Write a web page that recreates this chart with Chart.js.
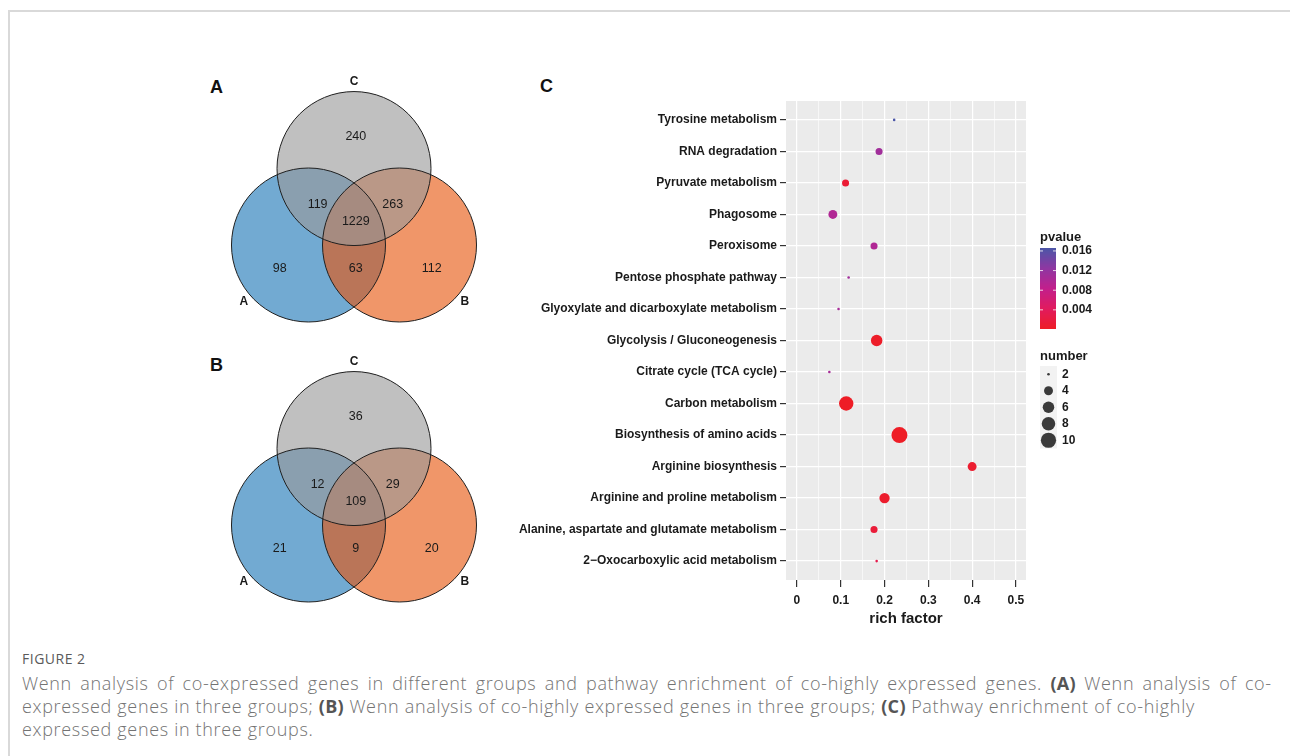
<!DOCTYPE html>
<html>
<head>
<meta charset="utf-8">
<script src="https://cdn.jsdelivr.net/npm/chart.js@4.4.1/dist/chart.umd.min.js"></script>
<style>
  body { margin:0; width:1290px; height:756px; background:#fff; position:relative; overflow:hidden; font-family:"Liberation Sans", Arial, sans-serif; }
  .frame { position:absolute; left:8px; top:10px; right:-4px; bottom:-4px; border-top:2px solid #d9d9d9; border-left:2px solid #d9d9d9; }
  canvas { position:absolute; }
  .tag { position:absolute; font-weight:bold; font-size:18px; color:#111; line-height:20px; }
  .figno { position:absolute; left:22px; top:650px; font-family:"Open Sans", sans-serif; font-size:14px; line-height:18px; color:#5a5a5a; letter-spacing:0.5px; }
  .cap { position:absolute; left:22px; top:672px; font-family:"Open Sans", sans-serif; font-weight:300; font-size:18px; letter-spacing:0.68px; line-height:23px; color:#737373; white-space:nowrap; }
  .cap div { height:23px; }
  .cap .wide { word-spacing:3px; }
  .cap b { color:#555; font-weight:700; letter-spacing:0.3px; }
</style>
</head>
<body>
<div class="frame"></div>

<div class="tag" style="left:210px;top:77px">A</div>
<div class="tag" style="left:210px;top:355px">B</div>
<div class="tag" style="left:540px;top:76px">C</div>

<canvas id="vennA" width="320" height="265" style="left:194px;top:70px"></canvas>
<canvas id="vennB" width="320" height="265" style="left:194px;top:350px"></canvas>
<canvas id="enrich" width="630" height="540" style="left:500px;top:90px"></canvas>

<div class="figno">FIGURE 2</div>
<div class="cap">
  <div class="wide">Wenn analysis of co-expressed genes in different groups and pathway enrichment of co-highly expressed genes. <b>(A)</b> Wenn analysis of co-</div>
  <div>expressed genes in three groups; <b>(B)</b> Wenn analysis of co-highly expressed genes in three groups; <b>(C)</b> Pathway enrichment of co-highly</div>
  <div>expressed genes in three groups.</div>
</div>

<script>
// ---- data ----
// venn regions: C only, A&C, B&C, A&B&C, A only, A&B, B only
var vennCountsA = [240, 119, 263, 1229, 98, 63, 112];
var vennCountsB = [36, 12, 29, 109, 21, 9, 20];
var setNames = ['A', 'B', 'C'];

// pathways listed top to bottom
var pathways = [
  'Tyrosine metabolism',
  'RNA degradation',
  'Pyruvate metabolism',
  'Phagosome',
  'Peroxisome',
  'Pentose phosphate pathway',
  'Glyoxylate and dicarboxylate metabolism',
  'Glycolysis / Gluconeogenesis',
  'Citrate cycle (TCA cycle)',
  'Carbon metabolism',
  'Biosynthesis of amino acids',
  'Arginine biosynthesis',
  'Arginine and proline metabolism',
  'Alanine, aspartate and glutamate metabolism',
  '2\u2212Oxocarboxylic acid metabolism'
];
var richFactor = [0.222, 0.1875, 0.111, 0.082, 0.176, 0.118, 0.095, 0.182, 0.074, 0.1125, 0.234, 0.4, 0.2, 0.176, 0.182];
var geneNumber = [2, 3, 3, 4, 3, 2, 2, 6, 2, 9, 11, 4, 5, 3, 2];
var pValue = [0.0166, 0.011, 0.0012, 0.0098, 0.0098, 0.011, 0.0105, 0.0003, 0.0105, 0.0001, 0.0001, 0.0008, 0.0006, 0.0015, 0.003];

var xMajorTicks = [0, 0.1, 0.2, 0.3, 0.4, 0.5];
var xMinorTicks = [0.05, 0.15, 0.25, 0.35, 0.45];
var pBreaks = [0.004, 0.008, 0.012, 0.016];
var sizeBreaks = [2, 4, 6, 8, 10];

// ---- layout (venn geometry in circle-distance units) ----
var vennCenters = [[-0.5, 0], [0.5, 0], [0, 0.84]];
var vennRadius = 0.846;
var regionSpots = [[0.02, 1.187], [-0.4, 0.45], [0.425, 0.45], [0.02, 0.253], [-0.816, -0.264], [0.02, -0.264], [0.853, -0.264]];
var nameSpots = [[-1.21, -0.626], [1.217, -0.626], [0, 1.79]];
var vennFills = ['rgba(28,118,182,0.62)', 'rgba(231,86,13,0.62)', 'rgba(153,153,153,0.62)'];

Chart.defaults.font.family = '"Liberation Sans", Arial, sans-serif';
Chart.defaults.color = '#1a1a1a';

var vennText = {
  id: 'vennText',
  afterDatasetsDraw: function(chart, args, opts) {
    var ctx = chart.ctx, x = chart.scales.x, y = chart.scales.y;
    ctx.save();
    ctx.fillStyle = '#1a1a1a';
    ctx.textAlign = 'center';
    ctx.textBaseline = 'middle';
    ctx.font = '12.5px "Liberation Sans"';
    opts.counts.forEach(function(c, i) {
      ctx.fillText(String(c), x.getPixelForValue(regionSpots[i][0]), y.getPixelForValue(regionSpots[i][1]));
    });
    ctx.font = 'bold 12px "Liberation Sans"';
    setNames.forEach(function(n, i) {
      ctx.fillText(n, x.getPixelForValue(nameSpots[i][0]), y.getPixelForValue(nameSpots[i][1]));
    });
    ctx.restore();
  }
};

function drawVenn(id, counts) {
  var pts = vennCenters.map(function(c) { return {x: c[0], y: c[1]}; });
  var rad = function(ctx) {
    var s = ctx.chart.scales.x;
    return s.getPixelForValue(vennRadius) - s.getPixelForValue(0);
  };
  new Chart(document.getElementById(id), {
    type: 'scatter',
    data: {
      datasets: [
        { data: pts, order: 1, pointRadius: rad, backgroundColor: 'rgba(0,0,0,0)', borderColor: '#1f1f1f', borderWidth: 1 },
        { data: pts, order: 2, pointRadius: rad, backgroundColor: vennFills, borderWidth: 0 }
      ]
    },
    options: {
      responsive: false,
      animation: false,
      events: [],
      layout: { padding: 0 },
      scales: {
        x: { display: false, min: -1.758, max: 1.758 },
        y: { display: false, min: -0.989, max: 1.923 }
      },
      plugins: { legend: { display: false }, tooltip: { enabled: false }, vennText: { counts: counts } }
    },
    plugins: [vennText]
  });
}
drawVenn('vennA', vennCountsA);
drawVenn('vennB', vennCountsB);

// ---- enrichment bubble chart ----
var nMin = Math.min.apply(null, geneNumber), nMax = Math.max.apply(null, geneNumber);
var pMin = Math.min.apply(null, pValue), pMax = Math.max.apply(null, pValue);
function sizeFor(n) { return 1.3 + 6.7 * Math.sqrt((n - nMin) / (nMax - nMin)); }

var colorStops = [[0, [238, 29, 38]], [0.25, [225, 27, 94]], [0.5, [194, 31, 140]], [0.75, [142, 55, 162]], [1, [75, 86, 167]]];
function colorFor(p) {
  var t = Math.max(0, Math.min(1, (p - pMin) / (pMax - pMin)));
  for (var i = 1; i < colorStops.length; i++) {
    if (t <= colorStops[i][0]) {
      var a = colorStops[i - 1], b = colorStops[i];
      var f = (t - a[0]) / (b[0] - a[0]);
      var c = a[1].map(function(v, k) { return Math.round(v + (b[1][k] - v) * f); });
      return 'rgb(' + c.join(',') + ')';
    }
  }
  return 'rgb(' + colorStops[colorStops.length - 1][1].join(',') + ')';
}

var panelBg = {
  id: 'panelBg',
  beforeDraw: function(chart) {
    var a = chart.chartArea, ctx = chart.ctx;
    ctx.save();
    ctx.fillStyle = '#ebebeb';
    ctx.fillRect(a.left, a.top, a.right - a.left, a.bottom - a.top);
    ctx.restore();
  }
};

var sideLegend = {
  id: 'sideLegend',
  afterDraw: function(chart) {
    var ctx = chart.ctx, a = chart.chartArea;
    var L = a.right + 14, barW = 16, barTop = 158, barH = 81;
    ctx.save();
    // pvalue colour bar
    ctx.fillStyle = '#1a1a1a';
    ctx.font = 'bold 13px "Liberation Sans"';
    ctx.textAlign = 'left';
    ctx.textBaseline = 'alphabetic';
    ctx.fillText('pvalue', L, barTop - 7);
    for (var i = 0; i < barH; i++) {
      ctx.fillStyle = colorFor(pMax - (pMax - pMin) * (i + 0.5) / barH);
      ctx.fillRect(L, barTop + i, barW, 1);
    }
    ctx.font = 'bold 12px "Liberation Sans"';
    ctx.textBaseline = 'middle';
    pBreaks.forEach(function(v) {
      var yy = barTop + barH - (v - pMin) / (pMax - pMin) * barH;
      ctx.strokeStyle = 'rgba(255,255,255,0.8)';
      ctx.lineWidth = 1;
      ctx.beginPath();
      ctx.moveTo(L, yy); ctx.lineTo(L + 3, yy);
      ctx.moveTo(L + barW - 3, yy); ctx.lineTo(L + barW, yy);
      ctx.stroke();
      ctx.fillStyle = '#1a1a1a';
      ctx.fillText(String(v), L + 22, yy);
    });
    // number size legend
    var keyTop = 276, keyH = 16.5;
    ctx.font = 'bold 13px "Liberation Sans"';
    ctx.textBaseline = 'alphabetic';
    ctx.fillText('number', L, keyTop - 6);
    ctx.fillStyle = '#f2f2f2';
    ctx.fillRect(L, keyTop, 17, keyH * sizeBreaks.length);
    ctx.font = 'bold 12px "Liberation Sans"';
    ctx.textBaseline = 'middle';
    sizeBreaks.forEach(function(n, i) {
      var cy = keyTop + keyH * (i + 0.5);
      ctx.fillStyle = '#3a3a3a';
      ctx.beginPath();
      ctx.arc(L + 8.5, cy, sizeFor(n), 0, Math.PI * 2);
      ctx.fill();
      ctx.fillStyle = '#1a1a1a';
      ctx.fillText(String(n), L + 22, cy);
    });
    ctx.restore();
  }
};

new Chart(document.getElementById('enrich'), {
  type: 'scatter',
  data: {
    datasets: [{
      data: pathways.map(function(p, i) { return {x: richFactor[i], y: i}; }),
      pointRadius: function(ctx) { return sizeFor(geneNumber[ctx.dataIndex]); },
      backgroundColor: function(ctx) { return colorFor(pValue[ctx.dataIndex]); },
      borderWidth: 0
    }]
  },
  options: {
    responsive: false,
    animation: false,
    events: [],
    layout: { padding: { left: 0, right: 104, top: 11, bottom: 0 } },
    scales: {
      x: {
        type: 'linear',
        min: -0.025, max: 0.523,
        afterBuildTicks: function(s) {
          s.ticks = xMajorTicks.concat(xMinorTicks).sort(function(a, b) { return a - b; }).map(function(v) { return {value: v}; });
        },
        afterFit: function(s) { s.height = 50; },
        border: { display: false },
        grid: {
          color: '#ffffff',
          lineWidth: function(c) { return xMajorTicks.indexOf(c.tick.value) >= 0 ? 1.2 : 0.6; },
          tickLength: 7,
          tickColor: function(c) { return xMajorTicks.indexOf(c.tick.value) >= 0 ? '#333333' : 'rgba(0,0,0,0)'; },
          tickWidth: 1.2
        },
        ticks: {
          padding: 6,
          font: { size: 12, weight: 'bold' },
          color: '#1a1a1a',
          autoSkip: false,
          maxRotation: 0,
          callback: function(v) { return xMajorTicks.indexOf(v) >= 0 ? String(v) : ''; }
        },
        title: { display: true, text: 'rich factor', font: { size: 15, weight: 'bold' }, color: '#1a1a1a', padding: { top: 0, bottom: 2 } }
      },
      y: {
        type: 'linear',
        reverse: true,
        min: -0.6, max: pathways.length - 0.4,
        afterBuildTicks: function(s) {
          s.ticks = pathways.map(function(p, i) { return {value: i}; });
        },
        afterFit: function(s) { s.width = 286; },
        border: { display: false },
        grid: { color: '#ffffff', lineWidth: 1.2, tickLength: 6, tickColor: '#333333', tickWidth: 1.2 },
        ticks: {
          padding: 3,
          font: { size: 12, weight: 'bold' },
          color: '#1a1a1a',
          autoSkip: false,
          callback: function(v) { return pathways[v]; }
        }
      }
    },
    plugins: { legend: { display: false }, tooltip: { enabled: false } }
  },
  plugins: [panelBg, sideLegend]
});
</script>
</body>
</html>
